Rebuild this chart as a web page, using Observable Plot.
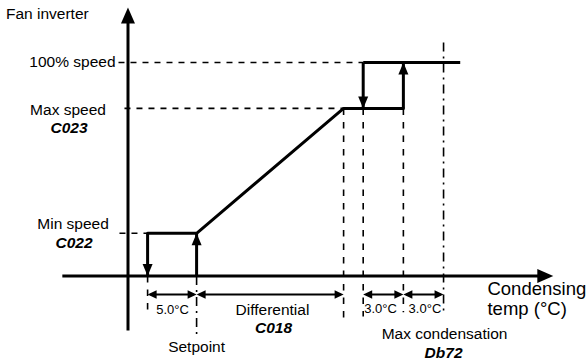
<!DOCTYPE html>
<html><head><meta charset="utf-8">
<script src="https://cdn.jsdelivr.net/npm/d3@7"></script>
<script src="https://cdn.jsdelivr.net/npm/@observablehq/plot@0.6"></script>
<style>html,body{margin:0;padding:0;background:#fff;} svg{display:block}</style>
</head><body><div id="chart"></div>
<script>
// Schematic condensing temperatures (x) : origin, min stop, setpoint, end of differential, step down, step up, max condensation, end of 100% line
const temps = [0, 2.0, 7.0, 22.0, 24.0, 28.1, 32.2, 33.9];
// Fan speeds (%) : min speed, max speed, 100% speed
const speeds = [20, 78.5, 100];
// Axis extents (schematic units)
const xAxisExtent = [-6.7, 41.9, 43.4];   // start, shaft end, arrow tip
const yAxisExtent = [-25.5, 119.7, 125.8];
const dimLevel = -8.7;                      // level of dimension arrows
// Guide line starts / ends
const guideStartX = [-0.97, -0.36, -0.87];  // for 100%, max, min speed
const dashBottom = [-16.2, -19.9, -19.0, -17.0];
const dashDotTop = [0, 109.4];
const dashDotBottom = [-29.3, -18.0];

// Labels
const plainLabels = ["Fan inverter", "100% speed", "Max speed", "Min speed", "5.0°C", "Setpoint", "Differential", "3.0°C", "3.0°C", "Max condensation", "Condensing", "temp (°C)"];
const plainX = [-12.45, -1.27, -6.12, -5.61, 4.54, 7.0, 14.74, 25.77, 30.3, 32.3, 36.68, 36.68];
const plainY = [120.47, 98.1, 75.2, 21.8, -17.6, -35.7, -18.5, -17.1, -17.1, -29.7, -9.13, -18.5];
const plainAnchor = ["start", "end", "middle", "middle", "middle", "middle", "middle", "middle", "middle", "middle", "start", "start"];
const plainSize = [15.5, 15.5, 15.5, 15.5, 13, 15.5, 15.5, 13, 13, 15.5, 18.5, 18.5];
const codeLabels = ["C023", "C022", "C018", "Db72"];
const codeX = [-6.02, -5.51, 14.85, 32.2];
const codeY = [67.2, 13.0, -26.9, -38.2];

const [tO, tMin, tSet, tDiff, tDown, tUp, tMax, tEnd] = temps;
const [sMin, sMax, sFull] = speeds;

function head(L, W) {
  return {draw(ctx) { ctx.moveTo(0, 0); ctx.lineTo(-W / 2, L); ctx.lineTo(W / 2, L); ctx.closePath(); }};
}
const bigHead = head(16, 14), midHead = head(12, 10), smallHead = head(9, 8.5);

const curve = [[tMin, sMin], [tSet, sMin], [tDiff, sMax], [tUp, sMax]];
const vArrows = [
  {x: tMin, y1: sMin, y2: 0, rot: 180},
  {x: tSet, y1: 0, y2: sMin, rot: 0},
  {x: tDown, y1: sFull, y2: sMax, rot: 180},
  {x: tUp, y1: sMax, y2: sFull, rot: 0}
];
const dims = [[tMin, tSet], [tSet, tDiff], [tDown, tUp], [tUp, tMax]];
const gap = 0.3;
const hGuides = [sFull, sMax, sMin].map((s, i) => ({x1: guideStartX[i], x2: [tDown, tDiff, tMin][i], y: s}));
const vDashes = [tMin, tDiff, tDown, tUp].map((t, i) => ({x: t, y1: i === 0 ? 0 : sMax, y2: dashBottom[i]}));
const vDashDots = [tSet, tMax].map((t, i) => ({x: t, y1: dashDotTop[i], y2: dashDotBottom[i]}));

const rows = plainLabels.map((t, i) => ({t, x: plainX[i], y: plainY[i], a: plainAnchor[i], s: plainSize[i]}));
const codes = codeLabels.map((t, i) => ({t, x: codeX[i], y: codeY[i]}));

const plot = Plot.plot({
  width: 587, height: 361, margin: 0,
  x: {domain: [-13.010, 46.888], axis: null},
  y: {domain: [-40.047, 129.04], axis: null},
  style: {fontFamily: "'Liberation Sans', Arial, sans-serif", background: "white", color: "black"},
  marks: [
    // guides
    Plot.link(hGuides, {x1: "x1", x2: "x2", y1: "y", y2: "y", stroke: "black", strokeWidth: 1.6, strokeDasharray: "6,6"}),
    Plot.link(vDashes, {x1: "x", x2: "x", y1: "y1", y2: "y2", stroke: "black", strokeWidth: 1.6, strokeDasharray: "6.5,7"}),
    Plot.link(vDashDots, {x1: "x", x2: "x", y1: "y1", y2: "y2", stroke: "black", strokeWidth: 1.6, strokeDasharray: "9,5,2,5"}),
    // axes
    Plot.link([0], {x1: tO, x2: tO, y1: yAxisExtent[0], y2: yAxisExtent[1], stroke: "black", strokeWidth: 3}),
    Plot.dot([0], {x: tO, y: yAxisExtent[2], symbol: bigHead, fill: "black", stroke: "none", rotate: 0}),
    Plot.link([0], {x1: xAxisExtent[0], x2: xAxisExtent[1], y1: 0, y2: 0, stroke: "black", strokeWidth: 3}),
    Plot.dot([0], {x: xAxisExtent[2], y: 0, symbol: bigHead, fill: "black", stroke: "none", rotate: 90}),
    // characteristic
    Plot.line(curve, {x: d => d[0], y: d => d[1], stroke: "black", strokeWidth: 3, strokeLinejoin: "miter"}),
    Plot.link([0], {x1: tDown, x2: tEnd, y1: sFull, y2: sFull, stroke: "black", strokeWidth: 3}),
    Plot.link(vArrows, {x1: "x", x2: "x", y1: "y1", y2: "y2", stroke: "black", strokeWidth: 3}),
    Plot.dot(vArrows, {x: "x", y: "y2", symbol: midHead, fill: "black", stroke: "none", rotate: "rot"}),
    // dimension arrows
    Plot.link(dims, {x1: d => d[0] + gap, x2: d => d[1] - gap, y1: dimLevel, y2: dimLevel, stroke: "black", strokeWidth: 2}),
    Plot.dot(dims, {x: d => d[0], y: dimLevel, symbol: smallHead, fill: "black", stroke: "none", rotate: -90}),
    Plot.dot(dims, {x: d => d[1], y: dimLevel, symbol: smallHead, fill: "black", stroke: "none", rotate: 90}),
    // labels
    ...["start", "middle", "end"].map(a => Plot.text(rows.filter(r => r.a === a), {
      x: "x", y: "y", text: "t", textAnchor: a, lineAnchor: "bottom", fontSize: d => d.s, fill: "black"
    })),
    Plot.text(codes, {x: "x", y: "y", text: "t", textAnchor: "middle", lineAnchor: "bottom", fontSize: 15.5, fontWeight: "bold", fontStyle: "italic", fill: "black"})
  ]
});
document.getElementById("chart").appendChild(plot);
</script>
</body></html>
